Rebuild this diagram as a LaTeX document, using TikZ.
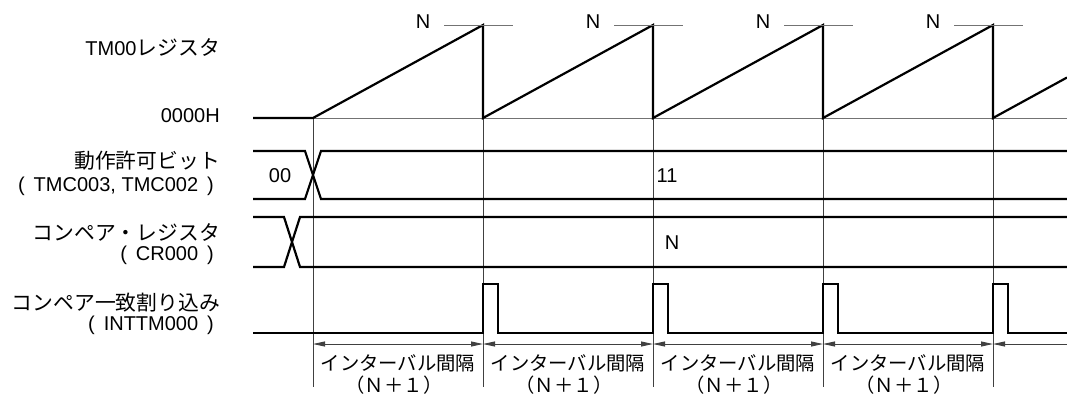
\documentclass[tikz,border=0pt]{standalone}
\usepackage{fontspec}
\setmainfont{Liberation Sans}
\newfontfamily\jp[Scale=1.04]{Noto Sans CJK JP}
\usetikzlibrary{arrows.meta,calc}

\begin{document}
\begin{tikzpicture}[x=1pt,y=-1pt,
  font=\fontsize{20}{22}\selectfont,
  >={Triangle[length=12pt,width=5pt]},
  wave/.style={line width=2.2pt, line join=miter},
  guide/.style={line width=0.9pt, draw=black!75},
  refline/.style={line width=0.9pt, draw=black!55},
  siglabel/.style={anchor=east, inner sep=0pt},
  span/.style={<->, line width=0.9pt, draw=black!75},
  spantext/.style={font=\fontsize{18.6}{22}\selectfont\jp},
]
\useasboundingbox (0,0) rectangle (1067,399);
\def\zy{118}
\def\ny{25}
\def\xend{1067}
% --- tick positions ---
\foreach \i/\x in {0/313,1/483,2/653,3/823,4/993} {
  \coordinate (t\i) at (\x,\zy);
  \coordinate (b\i) at (\x,387);
  \coordinate (a\i) at (\x,344);
}
\coordinate (aend) at (\xend,344);
\foreach \i in {0,...,4} \draw[guide] (t\i) -- (b\i);
\draw[refline] (t0) -- (\xend,\zy);
% --- TM00 register: count ramps ---
\draw[wave] (253,\zy) -- (t0) -- (483,\ny) -- (483,\zy) -- (653,\ny) -- (653,\zy)
  -- (823,\ny) -- (823,\zy) -- (993,\ny) -- (993,\zy) -- (\xend,77.5);
\foreach \x in {483,653,823,993} {
  \draw[refline] (\x-39,\ny) -- (\x+30,\ny);
  \node[inner sep=0pt] (n\x) at (\x-60,22) {N};
}
% --- operation enable bits ---
\draw[wave] (253,151) -- (305,151) -- (321,199) -- (\xend,199);
\draw[wave] (253,199) -- (305,199) -- (321,151) -- (\xend,151);
\node (v00) at (280,176) {00};
\node (v11) at (667,176) {11};
% --- compare register ---
\draw[wave] (253,217) -- (284,217) -- (300,267) -- (\xend,267);
\draw[wave] (253,267) -- (284,267) -- (300,217) -- (\xend,217);
\node (vN) at (672,243) {N};
% --- match interrupt ---
\draw[wave] (253,333) foreach \x in {483,653,823,993} {
  -- (\x,333) -- (\x,284) -- (\x+15,284) -- (\x+15,333) } -- (\xend,333);
% --- interval arrows ---
\foreach \i/\j in {0/1,1/2,2/3,3/4} {
  \draw[span] (a\i) -- (a\j);
  \node[spantext] (iv\i) at ($(a\i)!0.5!(a\j)+(0,19)$) {インターバル間隔};
  \node[spantext] (nn\i) at ($(a\i)!0.5!(a\j)+(-4,41)$) {（Ｎ＋１）};
}
\draw[<-, line width=0.9pt, draw=black!75] (a4) -- (aend);
% signal names
\node[siglabel] (lTM) at (220,47) {TM00{\jp レジスタ}};
\node[siglabel] (lZero) at (220,116) {0000H};
\node[siglabel] (lEn) at (220,161) {\jp 動作許可ビット};
\node[siglabel] (lEnReg) at (214,186) {(\ \,TMC003, TMC002\ \,)};
\node[siglabel] (lCmp) at (220,232) {\jp コンペア・レジスタ};
\node[siglabel] (lCmpReg) at (214,255) {(\ \,CR000\ \,)};
\node[siglabel] (lInt) at (220,303) {\jp コンペア一致割り込み};
\node[siglabel] (lIntReg) at (214,325) {(\ \,INTTM000\ \,)};
\end{tikzpicture}
\end{document}
